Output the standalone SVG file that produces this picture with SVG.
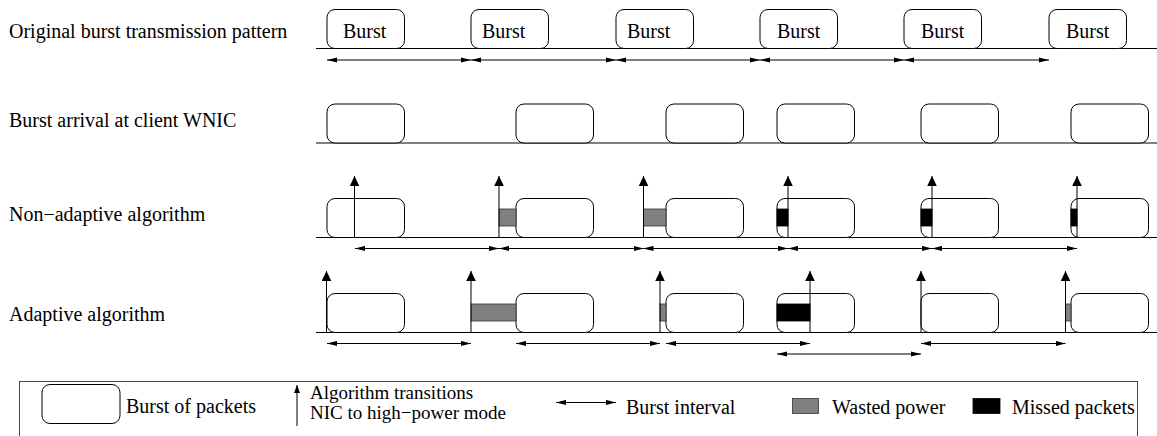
<svg xmlns="http://www.w3.org/2000/svg" width="1157" height="436" viewBox="0 0 1157 436">
<style>
  text { font-family: "Liberation Serif", Tinos, "Times New Roman", serif; font-size: 20px; fill: #000; }
  .small { font-size: 19px; }
  .box { fill: #fff; stroke: #000; stroke-width: 1; }
  .tl { stroke: #000; stroke-width: 1; }
  .iv { stroke: #000; stroke-width: 1; fill: none; marker-start: url(#hh); marker-end: url(#hh); }
  .up { stroke: #000; stroke-width: 1; fill: none; marker-end: url(#vh); }
  .waste { fill: #808080; stroke: #333; stroke-width: 0.8; }
  .miss { fill: #000; stroke: #000; stroke-width: 0.8; }
</style>
<defs>
  <marker id="hh" markerUnits="userSpaceOnUse" markerWidth="10" markerHeight="6" refX="10" refY="3" orient="auto-start-reverse">
    <path d="M0,0.4 L10,3 L0,5.6 z" fill="#000"/>
  </marker>
  <marker id="vh" markerUnits="userSpaceOnUse" markerWidth="10" markerHeight="10" refX="10" refY="5" orient="auto">
    <path d="M0,0.2 L10,5 L0,9.8 z" fill="#000"/>
  </marker>
  <marker id="vhs" markerUnits="userSpaceOnUse" markerWidth="8" markerHeight="7" refX="8" refY="3" orient="auto">
    <path d="M0,0 L8,3 L0,6 z" fill="#000"/>
  </marker>
</defs>

<!-- row labels -->
<g id="labels">
  <text x="9" y="38">Original burst transmission pattern</text>
  <text x="9" y="127">Burst arrival at client WNIC</text>
  <text x="9" y="221">Non−adaptive algorithm</text>
  <text x="9" y="321">Adaptive algorithm</text>
</g>

<!-- timelines -->
<g id="timelines">
  <line class="tl" x1="316" y1="48.5" x2="1157" y2="48.5"/>
  <line class="tl" x1="316" y1="143" x2="1157" y2="143"/>
  <line class="tl" x1="316" y1="237.5" x2="1157" y2="237.5"/>
  <line class="tl" x1="316" y1="332.5" x2="1157" y2="332.5"/>
</g>

<!-- row 1: original bursts -->
<g id="r1b1"><rect class="box" x="327" y="9.5" width="77.5" height="39" rx="8"/><text x="343" y="38">Burst</text></g>
<g id="r1b2"><rect class="box" x="471" y="9.5" width="77.5" height="39" rx="8"/><text x="482" y="38">Burst</text></g>
<g id="r1b3"><rect class="box" x="616" y="9.5" width="77.5" height="39" rx="8"/><text x="627" y="38">Burst</text></g>
<g id="r1b4"><rect class="box" x="760" y="9.5" width="77.5" height="39" rx="8"/><text x="777" y="38">Burst</text></g>
<g id="r1b5"><rect class="box" x="904" y="9.5" width="77.5" height="39" rx="8"/><text x="921" y="38">Burst</text></g>
<g id="r1b6"><rect class="box" x="1049" y="9.5" width="77.5" height="39" rx="8"/><text x="1066" y="38">Burst</text></g>

<!-- row 2: arrival -->
<g id="r2b1"><rect class="box" x="327" y="104" width="77.5" height="39" rx="8"/></g>
<g id="r2b2"><rect class="box" x="516" y="104" width="77.5" height="39" rx="8"/></g>
<g id="r2b3"><rect class="box" x="666" y="104" width="77.5" height="39" rx="8"/></g>
<g id="r2b4"><rect class="box" x="777" y="104" width="77.5" height="39" rx="8"/></g>
<g id="r2b5"><rect class="box" x="921" y="104" width="77.5" height="39" rx="8"/></g>
<g id="r2b6"><rect class="box" x="1071" y="104" width="77.5" height="39" rx="8"/></g>

<!-- row 3: non-adaptive -->
<g id="r3b1"><rect class="box" x="327" y="198.5" width="77.5" height="39" rx="8"/></g>
<g id="r3b2"><rect class="box" x="516" y="198.5" width="77.5" height="39" rx="8"/></g>
<g id="r3b3"><rect class="box" x="666" y="198.5" width="77.5" height="39" rx="8"/></g>
<g id="r3b4"><rect class="box" x="777" y="198.5" width="77.5" height="39" rx="8"/></g>
<g id="r3b5"><rect class="box" x="921" y="198.5" width="77.5" height="39" rx="8"/></g>
<g id="r3b6"><rect class="box" x="1071" y="198.5" width="77.5" height="39" rx="8"/></g>
<g id="r3marks">
  <rect class="waste" x="499" y="209" width="17" height="17"/>
  <rect class="waste" x="643.5" y="209" width="22.5" height="17"/>
  <rect class="miss" x="777" y="209" width="11" height="17"/>
  <rect class="miss" x="921" y="209" width="11" height="17"/>
  <rect class="miss" x="1071" y="209" width="6" height="17"/>
</g>

<!-- row 4: adaptive -->
<g id="r4b1"><rect class="box" x="327" y="293.5" width="77.5" height="39" rx="8"/></g>
<g id="r4b2"><rect class="box" x="516" y="293.5" width="77.5" height="39" rx="8"/></g>
<g id="r4b3"><rect class="box" x="666" y="293.5" width="77.5" height="39" rx="8"/></g>
<g id="r4b4"><rect class="box" x="777" y="293.5" width="77.5" height="39" rx="8"/></g>
<g id="r4b5"><rect class="box" x="921" y="293.5" width="77.5" height="39" rx="8"/></g>
<g id="r4b6"><rect class="box" x="1071" y="293.5" width="77.5" height="39" rx="8"/></g>
<g id="r4marks">
  <rect class="waste" x="471" y="304" width="45" height="17"/>
  <rect class="waste" x="660" y="304" width="6" height="17"/>
  <rect class="waste" x="1065.5" y="304" width="5.5" height="17"/>
  <rect class="miss" x="777" y="304" width="33" height="17"/>
</g>

<!-- connectors -->
<g id="connectors">
  <!-- row 1 intervals -->
  <line class="iv" x1="327" y1="60" x2="471" y2="60"/>
  <line class="iv" x1="471" y1="60" x2="616" y2="60"/>
  <line class="iv" x1="616" y1="60" x2="760" y2="60"/>
  <line class="iv" x1="760" y1="60" x2="904" y2="60"/>
  <line class="iv" x1="904" y1="60" x2="1049" y2="60"/>
  <!-- row 3 transitions -->
  <line class="up" x1="354.5" y1="237.5" x2="354.5" y2="176"/>
  <line class="up" x1="499" y1="237.5" x2="499" y2="176"/>
  <line class="up" x1="643.5" y1="237.5" x2="643.5" y2="176"/>
  <line class="up" x1="788" y1="237.5" x2="788" y2="176"/>
  <line class="up" x1="932" y1="237.5" x2="932" y2="176"/>
  <line class="up" x1="1077" y1="237.5" x2="1077" y2="176"/>
  <!-- row 3 intervals -->
  <line class="iv" x1="355" y1="248.5" x2="499" y2="248.5"/>
  <line class="iv" x1="499" y1="248.5" x2="643.5" y2="248.5"/>
  <line class="iv" x1="643.5" y1="248.5" x2="788" y2="248.5"/>
  <line class="iv" x1="788" y1="248.5" x2="932" y2="248.5"/>
  <line class="iv" x1="932" y1="248.5" x2="1077" y2="248.5"/>
  <!-- row 4 transitions -->
  <line class="up" x1="326.5" y1="332.5" x2="326.5" y2="271"/>
  <line class="up" x1="471" y1="332.5" x2="471" y2="271"/>
  <line class="up" x1="660" y1="332.5" x2="660" y2="271"/>
  <line class="up" x1="810" y1="332.5" x2="810" y2="271"/>
  <line class="up" x1="921" y1="332.5" x2="921" y2="271"/>
  <line class="up" x1="1065.5" y1="332.5" x2="1065.5" y2="271"/>
  <!-- row 4 intervals -->
  <line class="iv" x1="327" y1="343.5" x2="471" y2="343.5"/>
  <line class="iv" x1="516" y1="343.5" x2="660" y2="343.5"/>
  <line class="iv" x1="666" y1="343.5" x2="810" y2="343.5"/>
  <line class="iv" x1="921" y1="343.5" x2="1065.5" y2="343.5"/>
  <line class="iv" x1="777" y1="354" x2="921" y2="354"/>
</g>

<!-- legend -->
<g id="legend">
  <rect x="19.5" y="381.5" width="1118" height="70" fill="none" stroke="#444" stroke-width="1"/>
  <rect class="box" x="42" y="384.5" width="78" height="39" rx="8"/>
  <text x="126" y="413">Burst of packets</text>
  <line x1="297" y1="426" x2="297" y2="385" stroke="#000" stroke-width="1" marker-end="url(#vhs)"/>
  <text class="small" x="310" y="399">Algorithm transitions</text>
  <text class="small" x="310" y="419">NIC to high−power mode</text>
  <line class="iv" x1="556" y1="402.5" x2="616" y2="402.5"/>
  <text x="626" y="414">Burst interval</text>
  <rect class="waste" x="792.5" y="398.5" width="26" height="15"/>
  <text x="832" y="414">Wasted power</text>
  <rect class="miss" x="973" y="398.5" width="27" height="15"/>
  <text x="1012" y="414">Missed packets</text>
</g>
</svg>
